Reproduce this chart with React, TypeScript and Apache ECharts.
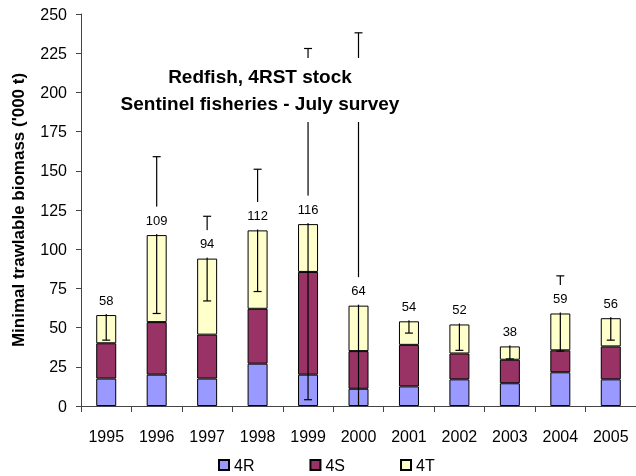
import React, { useEffect, useRef } from "react";
import * as echarts from "echarts";

const years = ["1995", "1996", "1997", "1998", "1999", "2000", "2001", "2002", "2003", "2004", "2005"];
const r4 = [17.5, 20, 17.5, 27, 20, 11, 12.5, 17, 14.5, 21.5, 17];
const s4 = [22.5, 33.5, 28, 35, 65.5, 24, 26.5, 16.5, 15, 14, 21];
const t4 = [18, 55.5, 48.5, 50, 30.5, 29, 15, 18.5, 8.5, 23.5, 18];
const totals = [58, 109, 94, 112, 116, 64, 54, 52, 38, 59, 56];
const errors = [16, 50, 27, 39, 112, 174, 7.5, 16.5, 8, 24, 14];
const yTicks = { min: 0, max: 250, interval: 25 };

const FONT = '"Liberation Sans", Arial, Helvetica, sans-serif';

export default function App() {
  const ref = useRef<HTMLDivElement>(null);
  useEffect(() => {
    if (!ref.current) return;
    const chart = echarts.init(ref.current, undefined, { renderer: "svg" });
    const barStyle = (color: string) => ({ color, borderColor: "#000", borderWidth: 1 });
    chart.setOption({
      animation: false,
      textStyle: { fontFamily: FONT },
      grid: { left: 81, right: 0, top: 14, bottom: 70, containLabel: false },
      legend: {
        data: ["4R", "4S", "4T"],
        left: 213,
        top: 452,
        itemWidth: 10,
        itemHeight: 10,
        itemGap: 55,
        icon: "rect",
        textStyle: { fontSize: 16, color: "#000", fontFamily: FONT },
      },
      xAxis: {
        type: "category",
        data: years,
        axisLine: { lineStyle: { color: "#444", width: 1 } },
        axisTick: { show: true, length: 6, lineStyle: { color: "#444" } },
        axisLabel: { fontSize: 16, color: "#000", margin: 22, fontFamily: FONT },
      },
      yAxis: {
        type: "value",
        min: yTicks.min,
        max: yTicks.max,
        interval: yTicks.interval,
        name: "Minimal trawlable biomass ('000 t)",
        nameLocation: "middle",
        nameGap: 54,
        nameTextStyle: { fontSize: 17, fontWeight: "bold", color: "#000", fontFamily: FONT },
        axisLine: { show: true, lineStyle: { color: "#444", width: 1 } },
        axisTick: { show: true, length: 5, lineStyle: { color: "#444" } },
        axisLabel: { fontSize: 16, color: "#000", margin: 14, fontFamily: FONT },
        splitLine: { show: false },
      },
      graphic: [
        {
          type: "text",
          x: 260,
          y: 90,
          z: 100,
          style: {
            text: "Redfish, 4RST stock\nSentinel fisheries - July survey",
            align: "center",
            verticalAlign: "middle",
            font: `bold 19px ${FONT}`,
            lineHeight: 27,
            fill: "#000",
            backgroundColor: "#fff",
            padding: [5, 6, 5, 6],
          },
        },
      ],
      series: [
        { name: "4R", type: "bar", stack: "total", barWidth: 20, data: r4, itemStyle: barStyle("#9999FF") },
        { name: "4S", type: "bar", stack: "total", barWidth: 20, data: s4, itemStyle: barStyle("#993366") },
        { name: "4T", type: "bar", stack: "total", barWidth: 20, data: t4, itemStyle: barStyle("#FFFFCC") },
        {
          name: "err",
          type: "custom",
          z: 10,
          data: years.map((_, i) => [i, totals[i], errors[i]]),
          renderItem: (params: any, api: any) => {
            const i = api.value(0);
            const tot = api.value(1);
            const e = api.value(2);
            const hi = tot + e;
            const lo = tot - e;
            const pTop = api.coord([i, Math.min(hi, 250)]);
            const pBot = api.coord([i, Math.max(lo, 0)]);
            const pBar = api.coord([i, tot]);
            const cx = pBar[0];
            const ls = { stroke: "#000", lineWidth: 1.2, fill: null };
            const children: any[] = [
              { type: "line", z2: 1, shape: { x1: cx, y1: pTop[1], x2: cx, y2: pBot[1] }, style: ls },
            ];
            if (hi <= 250) children.push({ type: "line", z2: 1, shape: { x1: cx - 4, y1: pTop[1], x2: cx + 4, y2: pTop[1] }, style: ls });
            if (lo > 0) children.push({ type: "line", z2: 1, shape: { x1: cx - 4, y1: pBot[1], x2: cx + 4, y2: pBot[1] }, style: ls });
            children.push({
              type: "rect",
              z2: 20,
              shape: { x: cx - 14, y: pBar[1] - 28.5, width: 28, height: 27.5 },
              style: { fill: "#ffffff", stroke: null },
            });
            children.push({
              type: "text",
              z2: 30,
              style: {
                text: String(totals[params.dataIndex]),
                x: cx,
                y: pBar[1] - 15,
                align: "center",
                verticalAlign: "middle",
                font: `13px ${FONT}`,
                fill: "#000",
              },
            });
            return { type: "group", children };
          },
        },
      ],
    });
    return () => chart.dispose();
  }, []);
  return <div ref={ref} style={{ position: "fixed", left: 0, top: 0, width: 636, height: 476 }} />;
}
